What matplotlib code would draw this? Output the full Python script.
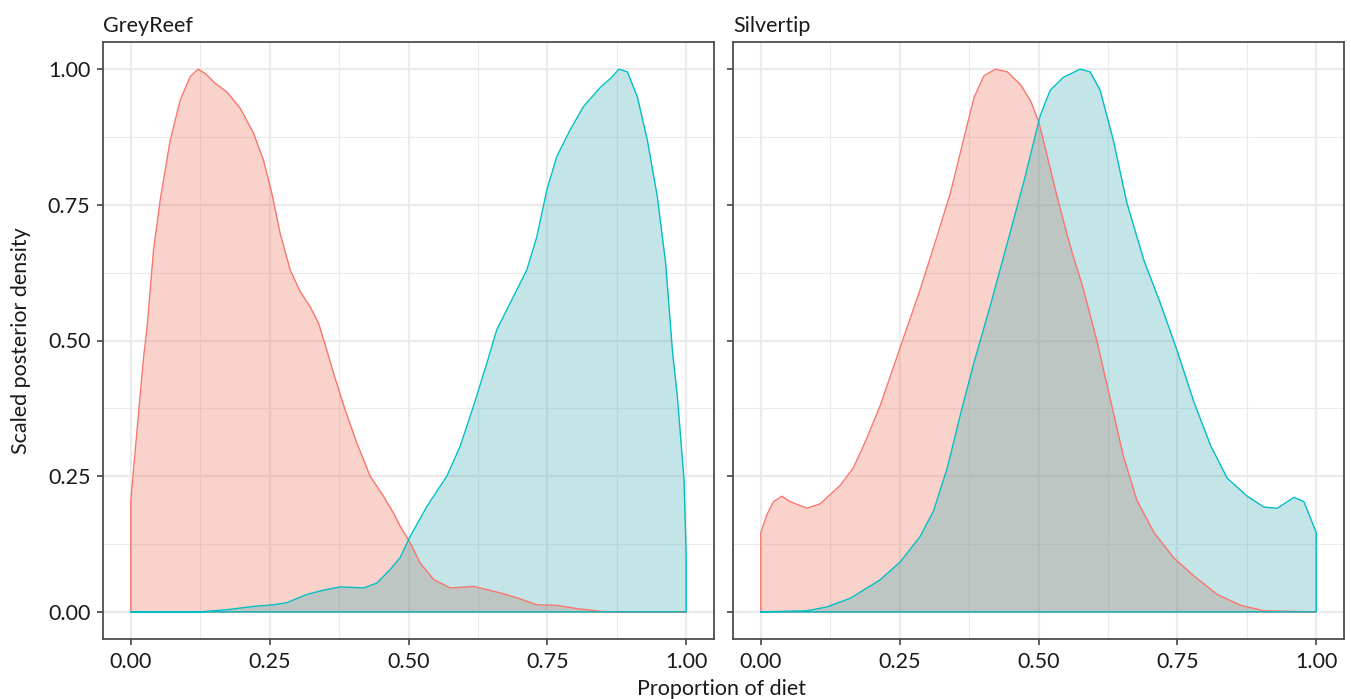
import matplotlib
matplotlib.use("Agg")
import matplotlib.pyplot as plt
import numpy as np

plt.rcParams["font.family"] = ["Lato", "DejaVu Sans"]

# GreyReef panel, source 1 (red) and source 2 (teal)
grey_red_x = [0.0, 0.0, 0.005, 0.014, 0.023, 0.029, 0.041, 0.053, 0.071, 0.089, 0.107, 0.121,
              0.134, 0.152, 0.173, 0.197, 0.221, 0.239, 0.254, 0.269, 0.287, 0.305, 0.323,
              0.338, 0.353, 0.365, 0.386, 0.407, 0.431, 0.455, 0.473, 0.485, 0.503, 0.521,
              0.545, 0.575, 0.617, 0.665, 0.695, 0.731, 0.767, 0.803, 0.846, 0.876, 1.0, 1.0]
grey_red_y = [0.0, 0.204, 0.262, 0.366, 0.469, 0.52, 0.667, 0.759, 0.869, 0.943, 0.986, 1.0,
              0.992, 0.974, 0.958, 0.928, 0.882, 0.832, 0.771, 0.697, 0.63, 0.59, 0.562,
              0.532, 0.482, 0.44, 0.372, 0.311, 0.25, 0.213, 0.182, 0.158, 0.127, 0.09,
              0.06, 0.044, 0.047, 0.035, 0.026, 0.013, 0.012, 0.006, 0.001, 0.0, 0.0, 0.0]

grey_teal_x = [0.0, 0.125, 0.173, 0.221, 0.257, 0.281, 0.317, 0.347, 0.377, 0.401, 0.419,
               0.443, 0.467, 0.485, 0.503, 0.533, 0.569, 0.593, 0.617, 0.641, 0.659, 0.689,
               0.713, 0.731, 0.749, 0.767, 0.791, 0.815, 0.846, 0.864, 0.879, 0.894, 0.912,
               0.93, 0.948, 0.963, 0.975, 0.984, 0.996, 1.0, 1.0]
grey_teal_y = [0.0, 0.0, 0.004, 0.010, 0.013, 0.017, 0.032, 0.04, 0.046, 0.045, 0.044,
               0.053, 0.078, 0.10, 0.139, 0.194, 0.25, 0.305, 0.379, 0.458, 0.52, 0.581,
               0.63, 0.691, 0.777, 0.839, 0.888, 0.931, 0.967, 0.983, 1.0, 0.995, 0.949,
               0.869, 0.765, 0.642, 0.483, 0.397, 0.244, 0.1, 0.0]

# Silvertip panel
silver_red_x = [0.0, 0.0, 0.011, 0.023, 0.038, 0.053, 0.083, 0.107, 0.143, 0.167, 0.191, 0.215,
                0.251, 0.287, 0.318, 0.342, 0.366, 0.384, 0.402, 0.423, 0.444, 0.468, 0.486,
                0.5, 0.509, 0.533, 0.557, 0.581, 0.605, 0.629, 0.653, 0.677, 0.708, 0.744,
                0.78, 0.822, 0.864, 0.906, 1.0]
silver_red_y = [0.0, 0.146, 0.179, 0.203, 0.213, 0.203, 0.191, 0.199, 0.233, 0.266, 0.32, 0.38,
                0.487, 0.594, 0.694, 0.774, 0.874, 0.948, 0.988, 1.0, 0.995, 0.971, 0.941,
                0.904, 0.868, 0.767, 0.674, 0.594, 0.5, 0.393, 0.286, 0.206, 0.146, 0.099,
                0.066, 0.032, 0.012, 0.002, 0.0]

silver_teal_x = [0.0, 0.083, 0.119, 0.161, 0.215, 0.251, 0.287, 0.311, 0.336, 0.36, 0.384,
                 0.414, 0.444, 0.474, 0.503, 0.521, 0.545, 0.575, 0.593, 0.611, 0.635, 0.659,
                 0.69, 0.72, 0.75, 0.78, 0.81, 0.84, 0.876, 0.906, 0.93, 0.96, 0.978, 1.0, 1.0]
silver_teal_y = [0.0, 0.002, 0.009, 0.025, 0.059, 0.092, 0.139, 0.186, 0.266, 0.366, 0.46,
                 0.567, 0.68, 0.794, 0.914, 0.961, 0.985, 1.0, 0.995, 0.961, 0.868, 0.754,
                 0.647, 0.567, 0.48, 0.386, 0.306, 0.246, 0.213, 0.193, 0.191, 0.211, 0.203,
                 0.146, 0.0]

panels = [
    ("GreyReef", grey_red_x, grey_red_y, grey_teal_x, grey_teal_y),
    ("Silvertip", silver_red_x, silver_red_y, silver_teal_x, silver_teal_y),
]

RED = "#F8766D"
TEAL = "#00BFC4"
RED_FILL = "#EB6C55"
TEAL_FILL = "#3AACB2"
BORDER = "#4D4D4D"

fig = plt.figure(figsize=(13.51, 6.99), dpi=100)
lefts = [103 / 1351, 733 / 1351]
width = 611 / 1351
bottom = 1 - 639 / 699
height = 597 / 699

for i, (name, rx, ry, tx, ty) in enumerate(panels):
    ax = fig.add_axes([lefts[i], bottom, width, height])
    for xs, ys, col, fcol in [(rx, ry, RED, RED_FILL), (tx, ty, TEAL, TEAL_FILL)]:
        ax.fill_between(xs, ys, 0, color=fcol, alpha=0.3, linewidth=0, zorder=2)
        # closed outline like geom_density
        ax.plot(list(xs) + [xs[0]], list(ys) + [0.0], color=col, lw=1.0, zorder=3)

    ax.set_xlim(-0.05, 1.05)
    ax.set_ylim(-0.05, 1.05)
    ticks = [0, 0.25, 0.5, 0.75, 1.0]
    ax.set_xticks(ticks)
    ax.set_yticks(ticks)
    ax.set_xticks([0.125, 0.375, 0.625, 0.875], minor=True)
    ax.set_yticks([0.125, 0.375, 0.625, 0.875], minor=True)
    ax.set_xticklabels(["0.00", "0.25", "0.50", "0.75", "1.00"])
    if i == 0:
        ax.set_yticklabels(["0.00", "0.25", "0.50", "0.75", "1.00"])
    else:
        ax.set_yticklabels([])
    ax.grid(True, which="major", color="#EBEBEB", lw=1.6, zorder=0)
    ax.grid(True, which="minor", color="#EBEBEB", lw=0.8, zorder=0)
    ax.set_axisbelow(True)
    ax.tick_params(which="major", length=4, width=1.1, color="#333333",
                   labelsize=15.5, labelcolor="#1A1A1A", pad=5)
    ax.tick_params(which="minor", length=0)
    for sp in ax.spines.values():
        sp.set_color(BORDER)
        sp.set_linewidth(1.3)
    ax.text(0.0, 1.01, name, transform=ax.transAxes, ha="left", va="bottom",
            fontsize=15.5, color="#1A1A1A")

fig.text(0.534, 0.0, "Proportion of diet", ha="center", va="bottom",
         fontsize=15.5, color="#1A1A1A")
fig.text(0.008, bottom + height / 2, "Scaled posterior density", rotation=90,
         ha="left", va="center", fontsize=15.5, color="#1A1A1A")

fig.savefig("out.png", dpi=100)
